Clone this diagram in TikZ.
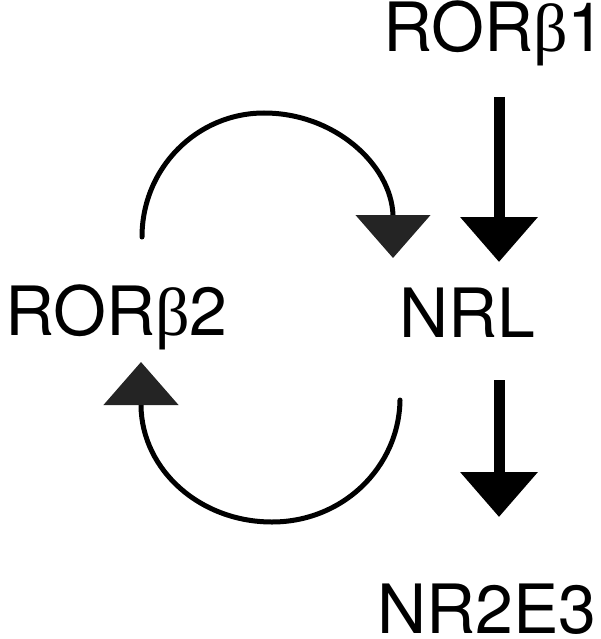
\documentclass[tikz,border=0pt]{standalone}
\usepackage{fontspec}
\setmainfont{TeX Gyre Heros}
\newfontfamily\betafont{Liberation Serif}
\usetikzlibrary{arrows.meta}
\definecolor{headgray}{HTML}{242424}
\newcommand{\bet}{{\betafont β}}
\begin{document}
\begin{tikzpicture}[x=1pt,y=-1pt,
  lbl/.style={anchor=base west,inner sep=0pt,font=\fontsize{68}{80}\selectfont},
  straightarrow/.style={line width=11pt,-{Triangle[width=75pt,length=45pt]}},
  loop/.style={line width=5pt,line cap=round,-{Triangle[width=74pt,length=43pt,color=headgray]}}]
\useasboundingbox (0,0) rectangle (600,639);
\node[lbl] (rb1) at (383,52) {ROR\bet1};
\node[lbl] (rb2) at (5,335) {ROR\bet2};
\node[lbl] (nrl) at (399,337) {NRL};
\node[lbl] (nr2e3) at (377,633) {NR2E3};
\coordinate (a1s) at (499,97);
\coordinate (a1e) at (499,262);
\coordinate (a2s) at (499,380);
\coordinate (a2e) at (499,517);
\draw[straightarrow] (a1s) -- (a1e);
\draw[straightarrow] (a2s) -- (a2e);
\coordinate (t1) at (142,237);
\coordinate (t2) at (264,113);
\coordinate (t3) at (393,215);
\coordinate (t4) at (393,258);
\draw[loop] (t1) .. controls (142,168) and (197,113) .. (t2)
  .. controls (335,113) and (391,165) .. (t3) -- (t4);
\coordinate (b1) at (400,400);
\coordinate (b2) at (272,522);
\coordinate (b3) at (141,406);
\coordinate (b4) at (141,362);
\draw[loop] (b1) .. controls (399,467) and (343,522) .. (b2)
  .. controls (200,522) and (142,470) .. (b3) -- (b4);
\end{tikzpicture}
\end{document}
